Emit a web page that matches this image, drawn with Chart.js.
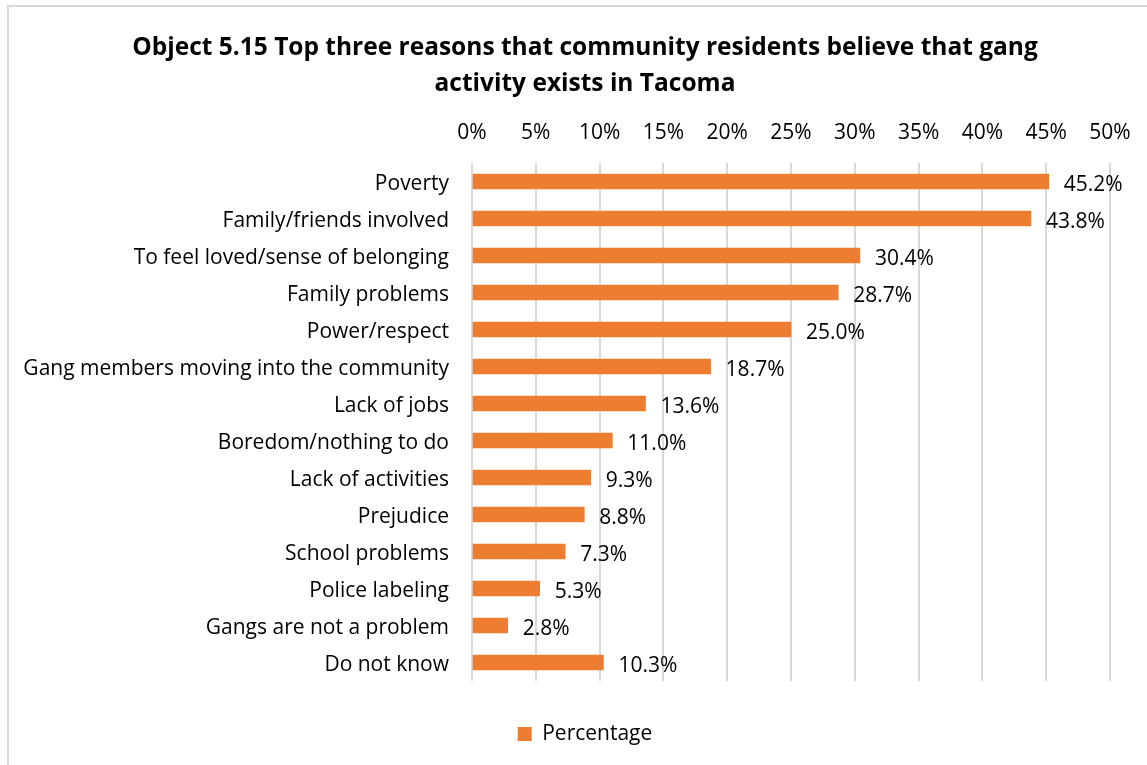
<!DOCTYPE html>
<html>
<head>
<meta charset="utf-8">
<title>Gang activity reasons – Tacoma</title>
<script src="https://cdn.jsdelivr.net/npm/chart.js@4/dist/chart.umd.min.js"></script>
<style>
  html, body { margin: 0; padding: 0; background: #ffffff; overflow: hidden; width: 1147px; height: 765px; }
  #frame { position: absolute; left: 7px; top: 5px; width: 1180px; height: 800px; border: 2px solid #d9d9d9; box-sizing: border-box; }
  #chart { position: absolute; left: 0; top: 0; }
</style>
</head>
<body>
<div id="frame"></div>
<canvas id="chart" width="1170" height="765"></canvas>
<script>
const titleLines = [
  'Object 5.15 Top three reasons that community residents believe that gang',
  'activity exists in Tacoma'
];
const categories = [
  'Poverty',
  'Family/friends involved',
  'To feel loved/sense of belonging',
  'Family problems',
  'Power/respect',
  'Gang members moving into the community',
  'Lack of jobs',
  'Boredom/nothing to do',
  'Lack of activities',
  'Prejudice',
  'School problems',
  'Police labeling',
  'Gangs are not a problem',
  'Do not know'
];
const percentages = [45.2, 43.8, 30.4, 28.7, 25.0, 18.7, 13.6, 11.0, 9.3, 8.8, 7.3, 5.3, 2.8, 10.3];
const seriesName = 'Percentage';
const axisMin = 0;
const axisMax = 50;
const axisStep = 5;

const FONT = '"Open Sans", "Noto Sans", sans-serif';
const BAR_COLOR = '#ED7D31';
const GRID_COLOR = '#d9d9d9';
const TEXT_COLOR = '#000000';

// Writes each bar's value just past the end of the bar
const valueLabels = {
  id: 'valueLabels',
  afterDatasetsDraw(chart) {
    const ctx = chart.ctx;
    const meta = chart.getDatasetMeta(0);
    const values = chart.data.datasets[0].data;
    ctx.save();
    ctx.font = '21px ' + FONT;
    ctx.fillStyle = TEXT_COLOR;
    ctx.textAlign = 'left';
    ctx.textBaseline = 'middle';
    meta.data.forEach((bar, i) => {
      ctx.fillText(values[i].toFixed(1) + '%', bar.x + 15, bar.y + 4);
    });
    ctx.restore();
  }
};

new Chart(document.getElementById('chart'), {
  type: 'bar',
  data: {
    labels: categories,
    datasets: [{
      label: seriesName,
      data: percentages,
      backgroundColor: BAR_COLOR,
      borderWidth: 0,
      barThickness: 15
    }]
  },
  options: {
    indexAxis: 'y',
    responsive: false,
    devicePixelRatio: 1,
    animation: false,
    layout: { padding: { top: 0, left: 0, right: 0, bottom: 10.5 } },
    scales: {
      x: {
        position: 'top',
        min: axisMin,
        max: axisMax,
        border: { display: false },
        grid: { color: GRID_COLOR, lineWidth: 2, drawTicks: false },
        ticks: {
          stepSize: axisStep,
          padding: 17,
          color: TEXT_COLOR,
          font: { family: FONT, size: 21 },
          callback: v => v + '%'
        },
        afterFit: s => { s.height = 59; }
      },
      y: {
        position: 'left',
        border: { display: false },
        grid: { display: false, drawTicks: false },
        ticks: {
          padding: 23,
          labelOffset: 2.5,
          color: TEXT_COLOR,
          font: { family: FONT, size: 21 }
        },
        afterFit: s => { s.width = 472; }
      },
      yRight: {
        type: 'linear',
        axis: 'y',
        position: 'right',
        display: true,
        border: { display: false },
        grid: { display: false, drawTicks: false },
        ticks: { display: false },
        afterFit: s => { s.width = 60; }
      }
    },
    plugins: {
      title: {
        display: true,
        text: titleLines,
        color: TEXT_COLOR,
        font: { family: FONT, size: 24.5, weight: 'bold', lineHeight: 36 / 24.5 },
        padding: { top: 30, bottom: 2 }
      },
      legend: {
        display: true,
        position: 'bottom',
        labels: {
          boxWidth: 14,
          boxHeight: 14,
          padding: 42.5,
          color: TEXT_COLOR,
          font: { family: FONT, size: 21 }
        }
      },
      tooltip: { enabled: false }
    }
  },
  plugins: [valueLabels]
});
</script>
</body>
</html>
